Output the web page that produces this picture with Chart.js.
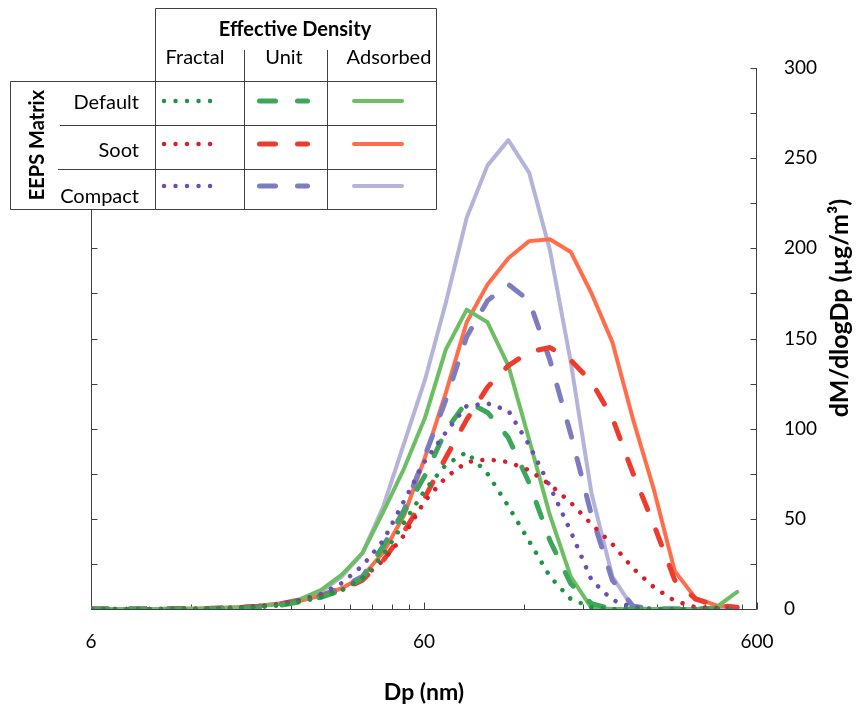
<!DOCTYPE html>
<html>
<head>
<meta charset="utf-8">
<title>EEPS mass distributions</title>
<script src="https://cdn.jsdelivr.net/npm/chart.js@4.4.1/dist/chart.umd.min.js"></script>
<style>
  html, body { margin: 0; padding: 0; background: #fff; }
  #wrap { position: relative; width: 857px; height: 712px; }
</style>
</head>
<body>
<div id="wrap"><canvas id="chart"></canvas></div>
<script>
// EEPS channel midpoints (nm)
const dpBins = [6.04, 6.98, 8.06, 9.31, 10.8, 12.4, 14.3, 16.5, 19.1, 22.1, 25.5, 29.4, 34.0, 39.2, 45.3, 52.3,
                60.4, 69.8, 80.6, 93.1, 107.5, 124.1, 143.3, 165.5, 191.1, 220.7, 254.8, 294.3, 339.8, 392.4, 453.2, 523.3];

// x tick marks (Excel style log axis starting at 6) and the labelled ones
const xTickValues = [6, 12, 18, 24, 30, 36, 42, 48, 54, 60, 120, 180, 240, 300, 360, 420, 480, 540, 600];
const xLabelValues = [6, 60, 600];
const yLabelStep = 50;

const densityNames = ['Fractal', 'Unit', 'Adsorbed'];
const matrixNames = ['Default', 'Soot', 'Compact'];

// dM/dlogDp (ug/m3)
const fractalDefault = [0, 0, 0, 0, 0, 0.1, 0.2, 0.5, 1, 2, 4, 6.5, 10.5, 17, 30, 48,
                        66, 80, 87, 75, 57, 37.7, 18, 5.5, 1, 0, 0, 0, 0, 0, 0, 0];
const fractalSoot    = [0, 0, 0, 0, 0.1, 0.2, 0.4, 0.8, 1.4, 2.6, 4.5, 7, 10.5, 17, 27, 41,
                        60, 73, 81.5, 83, 81.5, 77, 69, 59, 47, 36, 22.5, 12, 4.5, 1, 0.5, 0];
const fractalCompact = [0, 0, 0, 0, 0.1, 0.2, 0.4, 0.8, 1.5, 2.8, 5, 8.3, 14.4, 24, 38, 60,
                        82, 98, 112.6, 114, 110, 91, 68, 43, 16, 5, 1, 0, 0, 0, 0, 0];
const unitDefault    = [0, 0, 0, 0, 0, 0.1, 0.2, 0.5, 1, 2, 4, 6.5, 10.5, 17, 35, 54,
                        74, 99, 115, 109, 95, 70, 38, 14, 3, 0, 0, 0, 0, 0, 0, 0];
const unitSoot       = [0, 0, 0, 0, 0.1, 0.2, 0.4, 0.8, 1.4, 2.6, 4.5, 7, 10.5, 16, 27, 43,
                        62, 84, 105, 123, 135, 142.5, 145, 138, 126, 106, 75, 46.6, 16, 5.5, 2, 1];
const unitCompact    = [0, 0, 0, 0, 0.1, 0.2, 0.4, 0.8, 1.5, 2.8, 5, 7.5, 12, 18, 35, 55,
                        85, 116, 151, 171, 180, 171, 138, 97, 52, 16, 1.5, 0, 0, 0, 0, 0];
const adsorbedDefault = [0, 0, 0, 0, 0.1, 0.2, 0.4, 0.8, 1.5, 2.8, 5.5, 10.5, 19, 31, 54, 78,
                         106, 144, 166, 159, 135, 94, 52, 18, 0.5, 0, 0, 0, 0, 0, 1, 9.5];
const adsorbedSoot    = [0, 0, 0, 0, 0.1, 0.2, 0.5, 1, 1.8, 3, 4.5, 7.5, 11.5, 18, 31.5, 52,
                         84, 120, 159, 180, 194.5, 204, 205, 198, 175, 148, 105, 66, 21, 6, 2, 1];
const adsorbedCompact = [0, 0, 0, 0, 0.1, 0.2, 0.4, 0.9, 1.6, 3, 5, 9.5, 18, 31, 57, 92,
                         127, 170, 217, 246, 260, 242, 199, 137, 64, 18, 0.5, 0, 0, 0, 0, 0];

const dotted = [0.01, 11.5];
const dashed = [16, 22];

function series(label, values, color, width, dash) {
    return {
        label: label,
        data: dpBins.map((d, i) => ({ x: d, y: values[i] })),
        borderColor: color,
        backgroundColor: color,
        borderWidth: width,
        borderDash: dash,
        borderCapStyle: 'round',
        borderJoinStyle: 'round',
        pointRadius: 0,
        tension: 0,
        fill: false
    };
}

// index 0 is drawn on top in Chart.js, so solids go last
const datasets = [
    series('Fractal / Default', fractalDefault, '#1f9447', 4.5, dotted),
    series('Fractal / Soot', fractalSoot, '#d2202e', 4.5, dotted),
    series('Fractal / Compact', fractalCompact, '#6c4db0', 4.5, dotted),
    series('Unit / Default', unitDefault, '#3ca65a', 5, dashed),
    series('Unit / Soot', unitSoot, '#ee3b2d', 5, dashed),
    series('Unit / Compact', unitCompact, '#7d7cc0', 5, dashed),
    series('Adsorbed / Default', adsorbedDefault, '#6dbe63', 4, []),
    series('Adsorbed / Soot', adsorbedSoot, '#ff6d4a', 4, []),
    series('Adsorbed / Compact', adsorbedCompact, '#b5b3da', 4, [])
];

const axisColor = '#404040';

// axis lines with inward tick marks, like the Excel original
const axisMarks = {
    id: 'axisMarks',
    beforeDatasetsDraw(chart) {
        const { ctx, chartArea: a, scales: { x, y } } = chart;
        const L = Math.round(a.left) + 0.5, R = Math.round(a.right) - 0.5, B = Math.round(a.bottom) + 0.5;
        const T = Math.round(a.top);
        ctx.save();
        ctx.strokeStyle = axisColor;
        ctx.lineWidth = 1;
        ctx.beginPath();
        ctx.moveTo(L, T); ctx.lineTo(L, B); ctx.lineTo(R, B); ctx.lineTo(R, T);
        xTickValues.forEach(v => {
            const px = Math.round(x.getPixelForValue(v)) + 0.5;
            const len = xLabelValues.includes(v) ? 7 : 5;
            ctx.moveTo(px, B); ctx.lineTo(px, B - len);
        });
        y.ticks.forEach(t => {
            const py = Math.round(y.getPixelForValue(t.value)) + 0.5;
            ctx.moveTo(L, py); ctx.lineTo(L + 6, py);
            ctx.moveTo(R, py); ctx.lineTo(R - 6, py);
        });
        ctx.stroke();
        ctx.restore();
    }
};

function sample(ctx, ds, x0, x1, yy) {
    ctx.save();
    ctx.strokeStyle = ds.borderColor;
    ctx.lineWidth = ds.borderWidth;
    ctx.lineCap = 'round';
    ctx.setLineDash(ds.borderDash);
    ctx.beginPath();
    ctx.moveTo(x0, yy); ctx.lineTo(x1, yy);
    ctx.stroke();
    ctx.restore();
}

// table-shaped legend and the right-hand axis title
const tableLegend = {
    id: 'tableLegend',
    afterDraw(chart) {
        const ctx = chart.ctx;
        ctx.save();
        ctx.fillStyle = '#fff';
        ctx.fillRect(10, 8, 427, 202);

        ctx.strokeStyle = axisColor;
        ctx.lineWidth = 1;
        ctx.beginPath();
        ctx.rect(155.5, 8.5, 281, 201);
        ctx.rect(10.5, 81.5, 145, 128);
        ctx.moveTo(155, 81.5); ctx.lineTo(437, 81.5);
        ctx.moveTo(60, 125.5); ctx.lineTo(437, 125.5);
        ctx.moveTo(58, 169.5); ctx.lineTo(437, 169.5);
        ctx.moveTo(244.5, 50); ctx.lineTo(244.5, 210);
        ctx.moveTo(327.5, 50); ctx.lineTo(327.5, 210);
        ctx.stroke();

        ctx.fillStyle = '#000';
        ctx.textBaseline = 'middle';
        ctx.textAlign = 'center';
        ctx.font = 'bold 20px Lato';
        ctx.fillText('Effective Density', 295, 30);
        ctx.font = '20px Lato';
        const colX = [195, 284, 389];
        densityNames.forEach((n, i) => ctx.fillText(n, colX[i], 58));
        ctx.textAlign = 'right';
        const rowText = [103, 151, 197];
        matrixNames.forEach((n, i) => ctx.fillText(n, 139, rowText[i]));

        ctx.save();
        ctx.translate(38, 145);
        ctx.rotate(-Math.PI / 2);
        ctx.textAlign = 'center';
        ctx.font = 'bold 20px Lato';
        ctx.fillText('EEPS Matrix', 0, 0);
        ctx.restore();

        const rowY = [101, 144, 186];
        const spans = [[164, 211], [259.5, 307.5], [354, 402]];
        for (let c = 0; c < 3; c++) {
            for (let r = 0; r < 3; r++) {
                sample(ctx, chart.data.datasets[c * 3 + r], spans[c][0], spans[c][1], rowY[r]);
            }
        }

        // y axis title, reading bottom to top
        ctx.translate(840, 308);
        ctx.rotate(-Math.PI / 2);
        ctx.textAlign = 'center';
        ctx.font = 'bold 25px Lato';
        ctx.fillText('dM/dlogDp (\u00b5g/m\u00b3)', 0, 0);
        ctx.restore();
    }
};

Chart.defaults.font.family = 'Lato';
Chart.defaults.color = '#000';

new Chart(document.getElementById('chart'), {
    type: 'line',
    data: { datasets: datasets },
    options: {
        responsive: true,
        maintainAspectRatio: false,
        animation: false,
        devicePixelRatio: 1,
        layout: { padding: { left: 91, top: 68, right: 0, bottom: 0 } },
        plugins: {
            legend: { display: false },
            tooltip: { enabled: false }
        },
        scales: {
            x: {
                type: 'logarithmic',
                min: 6,
                max: 600,
                afterBuildTicks: (s) => { s.ticks = xTickValues.map(v => ({ value: v })); },
                afterFit: (s) => { s.height = 103; },
                grid: { display: false },
                border: { display: false },
                ticks: {
                    autoSkip: false,
                    maxRotation: 0,
                    minRotation: 0,
                    padding: 13,
                    font: { size: 19 },
                    callback: (v) => xLabelValues.includes(v) ? String(v) : ''
                },
                title: {
                    display: true,
                    text: 'Dp (nm)',
                    font: { size: 23, weight: 'bold' },
                    padding: { top: 0, bottom: 6 }
                }
            },
            y: {
                position: 'right',
                min: 0,
                max: 300,
                afterFit: (s) => { s.width = 100; },
                grid: { display: false },
                border: { display: false },
                ticks: {
                    stepSize: 25,
                    padding: 19,
                    crossAlign: 'near',
                    font: { size: 19 },
                    callback: (v) => v % yLabelStep === 0 ? String(v) : ''
                }
            }
        }
    },
    plugins: [axisMarks, tableLegend]
});
</script>
</body>
</html>
